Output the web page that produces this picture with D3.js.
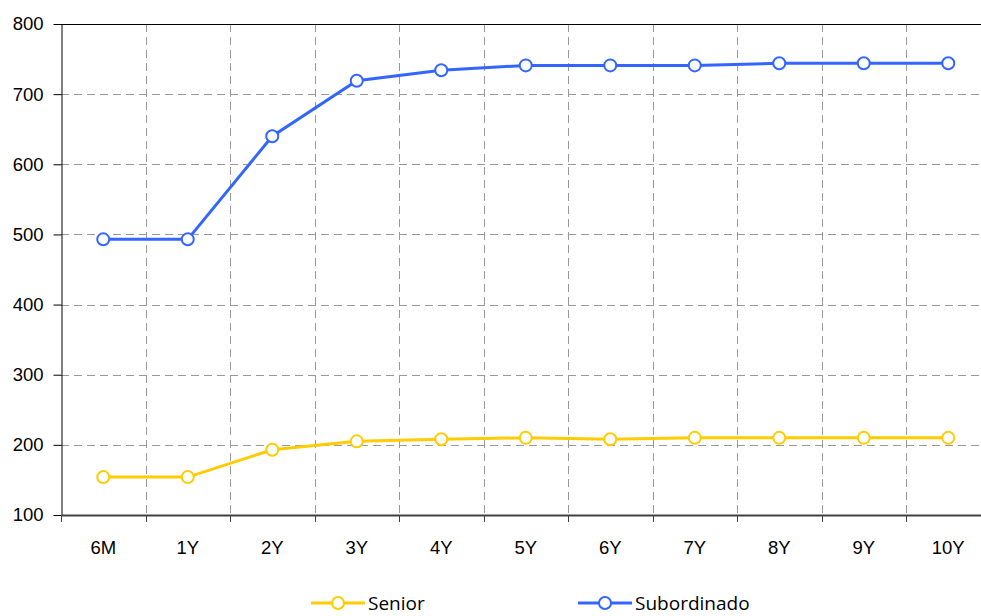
<!DOCTYPE html>
<html>
<head>
<meta charset="utf-8">
<script src="https://cdn.jsdelivr.net/npm/d3@7"></script>
<style>
  body { margin: 0; background: #fff; }
  svg { display: block; font-family: "Open Sans", "Noto Sans", sans-serif; }
</style>
</head>
<body>
<div id="chart"></div>
<script>
// Data
const categories = ["6M", "1Y", "2Y", "3Y", "4Y", "5Y", "6Y", "7Y", "8Y", "9Y", "10Y"];
const senior = [154, 154, 193, 205, 208, 210, 208, 210, 210, 210, 210];
const subordinado = [493, 493, 640, 719, 734, 741, 741, 741, 744, 744, 744];
const yTicks = [100, 200, 300, 400, 500, 600, 700, 800];

const series = [
    { name: "Senior", values: senior, color: "#ffcc00" },
    { name: "Subordinado", values: subordinado, color: "#3366ff" },
];

const W = 981, H = 616;
const plotLeft = 61, plotTop = 24, plotBottom = 515;
const bandW = 84.5;
const plotRight = plotLeft + bandW * categories.length; // runs past the window edge

const svg = d3.select("#chart").append("svg").attr("width", W).attr("height", H);

const x = d3.scaleBand().domain(categories).range([plotLeft, plotRight]);
const y = d3.scaleLinear().domain([100, 800]).range([plotBottom, plotTop]);
const px = v => Math.round(v) + 0.5;

// grid
const grid = svg.append("g").attr("stroke", "#999").attr("stroke-dasharray", "8,5").attr("stroke-width", 1);
grid.selectAll("line.h").data(yTicks.filter(d => d > 100 && d < 800)).join("line")
    .attr("class", "h")
    .attr("x1", plotLeft).attr("x2", plotRight)
    .attr("y1", d => px(y(d))).attr("y2", d => px(y(d)));
grid.selectAll("line.v").data(categories.slice(1)).join("line")
    .attr("class", "v")
    .attr("x1", d => px(x(d))).attr("x2", d => px(x(d)))
    .attr("y1", plotTop).attr("y2", plotBottom);

// top border
svg.append("line").attr("x1", plotLeft).attr("x2", plotRight)
    .attr("y1", px(y(800))).attr("y2", px(y(800)))
    .attr("stroke", "#000");

// y axis
const yAxis = svg.append("g").attr("transform", `translate(${plotLeft + 0.5},0)`)
    .call(d3.axisLeft(y).tickValues(yTicks).tickSize(8).tickPadding(10).tickSizeOuter(0));
yAxis.select(".domain").attr("stroke", "#000");
yAxis.selectAll(".tick line").attr("stroke", "#000");
yAxis.selectAll("text").attr("font-size", 18.5).attr("fill", "#000");

// x axis
const xAxis = svg.append("g").attr("transform", `translate(0,${plotBottom})`)
    .call(d3.axisBottom(x).tickSize(0).tickPadding(26));
xAxis.select(".domain").attr("stroke", "#404040").attr("stroke-width", 2);
xAxis.selectAll("text").attr("font-size", 18.5).attr("fill", "#000");
xAxis.selectAll("line.sep").data(categories).join("line")
    .attr("class", "sep")
    .attr("x1", d => px(x(d))).attr("x2", d => px(x(d)))
    .attr("y1", 0).attr("y2", 7).attr("stroke", "#404040");

// lines and markers
const cxOf = i => x(categories[i]) + x.bandwidth() / 2;
const line = d3.line().x((d, i) => cxOf(i)).y(d => y(d));
series.forEach(s => {
    svg.append("path").datum(s.values).attr("d", line)
        .attr("fill", "none").attr("stroke", s.color).attr("stroke-width", 3);
    svg.append("g").selectAll("circle").data(s.values).join("circle")
        .attr("cx", (d, i) => cxOf(i))
        .attr("cy", d => y(d)).attr("r", 6)
        .attr("fill", "#fff").attr("stroke", s.color).attr("stroke-width", 2);
});

// legend
const legendX = [311, 578];
const legend = svg.append("g").selectAll("g").data(series).join("g")
    .attr("transform", (d, i) => `translate(${legendX[i]},603)`);
legend.append("line").attr("x1", 0).attr("x2", 54)
    .attr("stroke", d => d.color).attr("stroke-width", 3);
legend.append("circle").attr("cx", 27).attr("r", 6)
    .attr("fill", "#fff").attr("stroke", d => d.color).attr("stroke-width", 2);
legend.append("text").attr("x", 57).attr("y", 7).attr("font-size", 19)
    .attr("fill", "#000").text(d => d.name);
</script>
</body>
</html>
